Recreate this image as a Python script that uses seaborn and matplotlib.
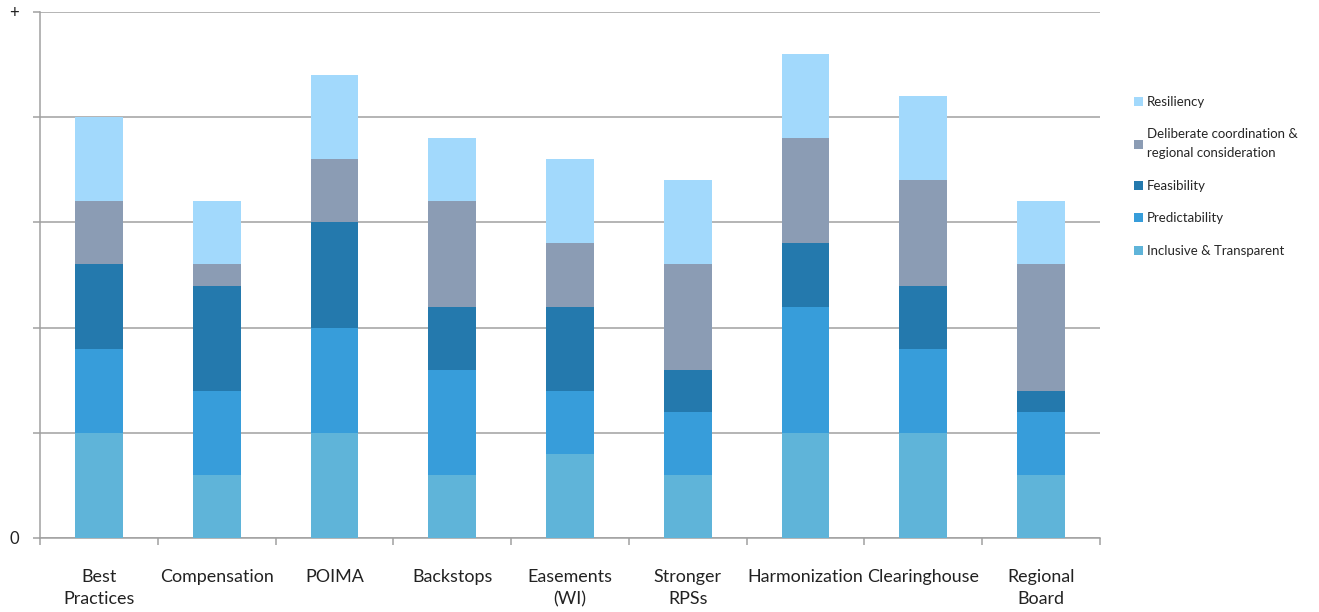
import numpy as np
import pandas as pd
import matplotlib
matplotlib.use("Agg")
import matplotlib.pyplot as plt
from matplotlib.patches import Patch
import seaborn as sns

categories = ["Best\nPractices", "Compensation", "POIMA", "Backstops", "Easements\n(WI)",
              "Stronger\nRPSs", "Harmonization", "Clearinghouse", "Regional\nBoard"]

inclusive = [5, 3, 5, 3, 4, 3, 5, 5, 3]
predictability = [4, 4, 5, 5, 3, 3, 6, 4, 3]
feasibility = [4, 5, 5, 3, 4, 2, 3, 3, 1]
deliberate = [3, 1, 3, 5, 3, 5, 5, 5, 6]
resiliency = [4, 3, 4, 3, 4, 4, 4, 4, 3]

series_names = ["Inclusive & Transparent", "Predictability", "Feasibility",
                "Deliberate coordination &\nregional consideration", "Resiliency"]
series_values = [inclusive, predictability, feasibility, deliberate, resiliency]
series_colors = ["#5FB4D9", "#379DDA", "#2479AD", "#8B9CB4", "#A2D9FC"]

y_tick_values = [0, 5, 10, 15, 20, 25]
y_tick_labels = ["0", "", "", "", "", "+"]

sns.set_theme(style="white")
plt.rcParams["font.family"] = ["Lato", "DejaVu Sans"]

fig = plt.figure(figsize=(13.19, 6.12), dpi=100)
ax = fig.add_axes([40 / 1319, 74 / 612, 1060 / 1319, 526 / 612])

# stacked bars: draw cumulative totals from the top segment down
cum = np.cumsum(np.array(series_values), axis=0)
df_base = pd.DataFrame({"category": categories})
for i in range(len(series_values) - 1, -1, -1):
    d = df_base.copy()
    d["value"] = cum[i]
    sns.barplot(data=d, x="category", y="value", color=series_colors[i],
                saturation=1, width=0.405, ax=ax, zorder=3, linewidth=0)

ax.set_xlim(-0.5, len(categories) - 0.5)
ax.set_ylim(0, 25)
ax.set_yticks(y_tick_values)
ax.set_yticklabels(y_tick_labels, fontsize=12, color="#222222")
ax.yaxis.grid(True, color="#A0A0A0", linewidth=1.1, zorder=0)
ax.set_axisbelow(True)
ax.tick_params(axis="y", which="major", length=5, width=1.1, color="#A0A0A0",
               direction="out", pad=10, left=True)

ax.set_xticks(range(len(categories)))
ax.set_xticklabels(categories, fontsize=12.9, color="#222222", linespacing=1.5)
ax.set_xticks(np.arange(-0.5, len(categories), 1.0), minor=True)
ax.tick_params(axis="x", which="major", length=0, pad=22)
ax.tick_params(axis="x", which="minor", length=5, width=1.1, color="#A0A0A0",
               direction="out", bottom=True)
for lbl in ax.get_xticklabels():
    lbl.set_verticalalignment("top")

ax.set_xlabel("")
ax.set_ylabel("")
for side in ["top", "right"]:
    ax.spines[side].set_visible(False)
for side in ["left", "bottom"]:
    ax.spines[side].set_color("#A0A0A0")
    ax.spines[side].set_linewidth(1.1)

handles = [Patch(facecolor=series_colors[i], edgecolor="none", label=series_names[i])
           for i in range(len(series_names) - 1, -1, -1)]
leg = fig.legend(handles=handles, loc="upper left", bbox_to_anchor=(1134 / 1319, 1 - 96 / 612),
                 frameon=False, fontsize=9.5, handlelength=0.65, handleheight=0.65,
                 handletextpad=0.35, labelspacing=1.55, borderaxespad=0, borderpad=0)
for t in leg.get_texts():
    t.set_linespacing(1.7)

fig.savefig("out.png", dpi=100)
